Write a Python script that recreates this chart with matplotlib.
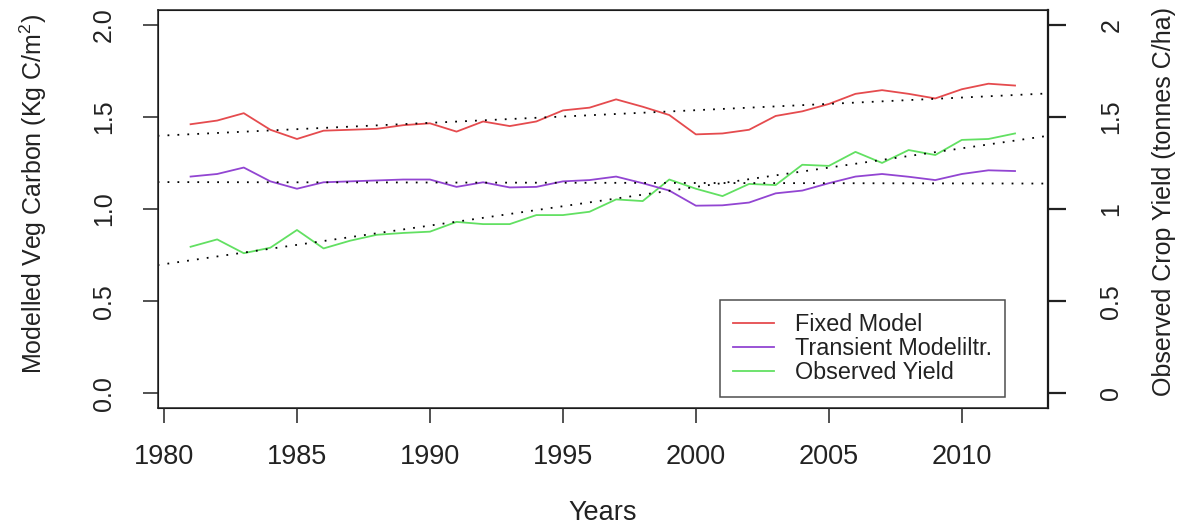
import matplotlib
matplotlib.use("Agg")
import matplotlib.pyplot as plt
import numpy as np

plt.rcParams['font.family'] = ['Liberation Sans', 'DejaVu Sans']
plt.rcParams['mathtext.fontset'] = 'custom'
plt.rcParams['mathtext.rm'] = 'Liberation Sans'

years = np.arange(1981, 2013)

fixed_model = [1.46, 1.48, 1.52, 1.43, 1.38, 1.425, 1.43, 1.435, 1.455, 1.465,
               1.42, 1.475, 1.45, 1.475, 1.535, 1.55, 1.595, 1.555, 1.51, 1.405,
               1.41, 1.43, 1.505, 1.53, 1.57, 1.625, 1.645, 1.625, 1.60, 1.65,
               1.68, 1.67]
transient_model = [1.176, 1.19, 1.225, 1.15, 1.11, 1.145, 1.15, 1.155, 1.16, 1.16,
                   1.12, 1.145, 1.117, 1.12, 1.15, 1.157, 1.176, 1.14, 1.10, 1.018,
                   1.02, 1.035, 1.085, 1.10, 1.14, 1.176, 1.19, 1.175, 1.157, 1.19,
                   1.21, 1.206]
observed_yield = [0.795, 0.835, 0.76, 0.79, 0.886, 0.786, 0.828, 0.86, 0.87, 0.877,
                  0.93, 0.918, 0.918, 0.967, 0.967, 0.985, 1.052, 1.043, 1.16, 1.11,
                  1.07, 1.136, 1.13, 1.24, 1.234, 1.31, 1.25, 1.32, 1.293, 1.375,
                  1.38, 1.41]

series_labels = ['Fixed Model', 'Transient Modeliltr.', 'Observed Yield']
series_colors = ['#e54b4e', '#9245d2', '#62e062']

left_ticks = [0.0, 0.5, 1.0, 1.5, 2.0]
right_ticks = [0, 0.5, 1, 1.5, 2]
x_ticks = [1980, 1985, 1990, 1995, 2000, 2005, 2010]

W, H = 1187, 531
fig = plt.figure(figsize=(W / 100, H / 100), dpi=100)
ax = fig.add_axes([157.6 / W, 123 / H, (1048 - 157.6) / W, 398 / H])

# R-style 4% padding around the data range
xmin, xmax = years.min(), years.max()
xpad = 0.04 * (xmax - xmin)
ax.set_xlim(xmin - xpad, xmax + xpad)
ax.set_ylim(-0.08, 2.08)

ink = '#222222'
for s in ax.spines.values():
    s.set_color(ink)
    s.set_linewidth(1.1)

for vals, lab, col in zip([fixed_model, transient_model], series_labels[:2], series_colors[:2]):
    ax.plot(years, vals, color=col, lw=1.3, label=lab)

# second axis for the observed yield, same scale
ax2 = ax.twinx()
ax2.set_ylim(-0.08, 2.08)
ax2.plot(years, observed_yield, color=series_colors[2], lw=1.3)
ax.plot([], [], color=series_colors[2], lw=1.3, label=series_labels[2])

# linear trend of every series across the whole plot width
xx = np.array(ax.get_xlim())
for vals in [fixed_model, transient_model, observed_yield]:
    k, b = np.polyfit(years, vals, 1)
    ax.plot(xx, k * xx + b, color='black', lw=1.3, linestyle=(0, (1, 4.5)))

ax.set_xticks(x_ticks)
ax.set_xticklabels([str(t) for t in x_ticks], fontsize=19.5, color='#222222')
ax.tick_params(axis='x', length=11, width=1.1, color=ink, pad=15)

ax.set_yticks(left_ticks)
ax.set_yticklabels(['%.1f' % t for t in left_ticks], fontsize=18, color='#222222',
                   rotation=90, va='center')
ax.tick_params(axis='y', length=11, width=1.1, color=ink, pad=19)

ax2.set_yticks(right_ticks)
ax2.set_yticklabels(['%g' % t for t in right_ticks], fontsize=18, color='#222222',
                    rotation=90, va='center')
ax2.tick_params(axis='y', length=13, width=1.6, color=ink, pad=24)
ax2.spines['right'].set_linewidth(1.6)

fig.text(33 / W, 1 - 194 / H, r'Modelled Veg Carbon (Kg C/m$^\mathregular{2}$)',
         rotation=90, ha='center', va='center', fontsize=18, color='#222222')
fig.text(1164 / W, 1 - 201 / H, 'Observed Crop Yield (tonnes C/ha)',
         rotation=90, ha='center', va='center', fontsize=18, color='#222222')
fig.text(603 / W, 1 - 513 / H, 'Years', ha='center', va='center',
         fontsize=19.5, color='#222222')

leg = ax.legend(loc='lower right', bbox_to_anchor=(0.9517, 0.0276), borderaxespad=0,
                fontsize=16.8, frameon=True, fancybox=False, edgecolor=ink,
                handlelength=1.75, handletextpad=0.9, labelspacing=0.04,
                borderpad=0.55)
leg.get_frame().set_linewidth(1.1)
for t in leg.get_texts():
    t.set_color('#222222')
leg.set_zorder(5)
ax.set_zorder(ax2.get_zorder() + 1)
ax.patch.set_visible(False)

fig.savefig('out.png', dpi=100)
